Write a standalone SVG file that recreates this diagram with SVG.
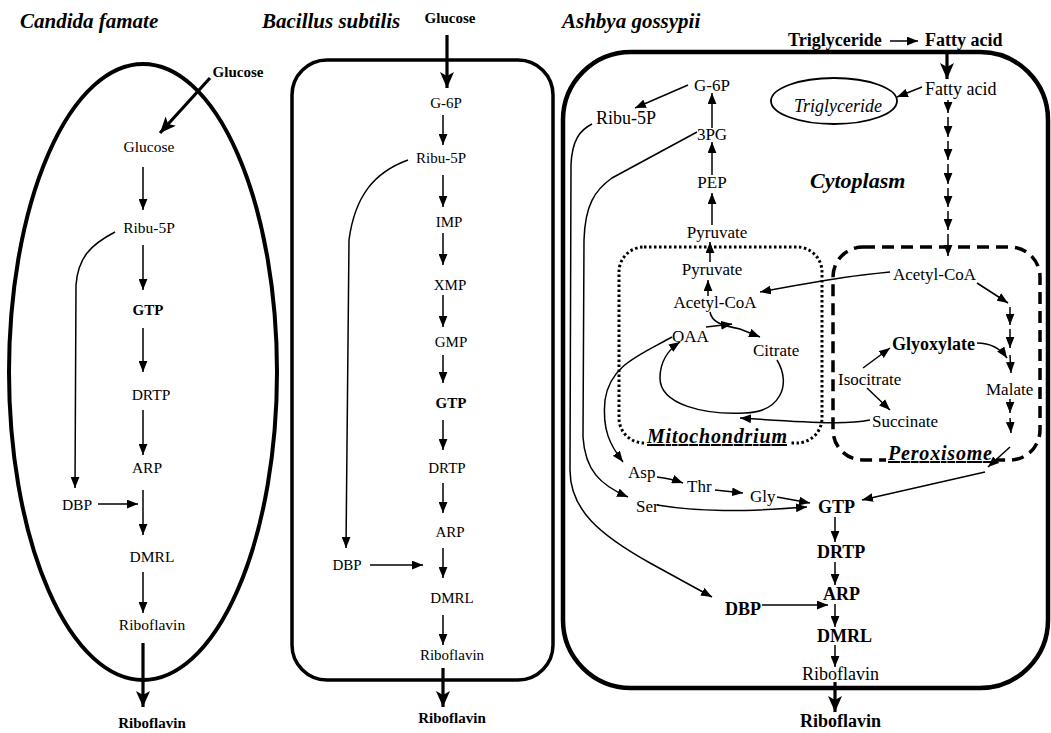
<svg xmlns="http://www.w3.org/2000/svg" width="1051" height="733" viewBox="0 0 1051 733">
<defs>
<style>
text{font-family:"Liberation Serif","Times New Roman",serif;fill:#000}
.t{font-size:21px;font-weight:bold;font-style:italic}
.c{font-size:15.5px;text-anchor:middle}
.cb{font-size:15px;font-weight:bold;text-anchor:middle}
.b{font-size:15px;text-anchor:middle}
.a{font-size:17px}
.a18{font-size:18px}
.ab{font-size:18px;font-weight:bold}
.org{font-size:20px;font-weight:bold;font-style:italic;text-decoration:underline}
.ln{fill:none;stroke:#000;stroke-width:1.5;marker-end:url(#ah)}
.thk{fill:none;stroke:#000;stroke-width:3.2;marker-end:url(#ahb)}
.box{fill:none;stroke:#000}
</style>
<marker id="ah" viewBox="0 0 10 8" refX="10" refY="4" markerWidth="11" markerHeight="9" orient="auto" markerUnits="userSpaceOnUse"><path d="M0,0 L10,4 L0,8 Z"/></marker>
<marker id="ahb" viewBox="0 0 16 14" refX="16" refY="7" markerWidth="16" markerHeight="14" orient="auto" markerUnits="userSpaceOnUse"><path d="M0,0 L16,7 L0,14 L4,7 Z"/></marker>
</defs>
<rect width="1051" height="733" fill="#fff"/>

<!-- titles -->
<g id="titles">
<text class="t" x="20" y="28">Candida famate</text>
<text class="t" x="262" y="28">Bacillus subtilis</text>
<text class="t" x="562" y="28">Ashbya gossypii</text>
</g>

<!-- compartments -->
<g id="candida-cell"><ellipse class="box" cx="143" cy="372" rx="134" ry="308" stroke-width="4"/></g>
<g id="bacillus-cell"><rect class="box" x="292" y="60" width="261" height="620" rx="35" stroke-width="3.5"/></g>
<g id="ashbya-cell"><rect class="box" x="563" y="52" width="485" height="636" rx="68" stroke-width="4.5"/></g>
<g id="mitochondrion">
<rect class="box" x="619" y="247" width="203" height="196" rx="25" stroke-width="3" stroke-dasharray="2.5 2.5"/>
<rect x="645" y="428" width="146" height="20" fill="#fff"/>
<text class="org" x="647" y="443" textLength="140" lengthAdjust="spacing">Mitochondrium</text>
</g>
<g id="peroxisome">
<rect class="box" x="833" y="247" width="207" height="213" rx="30" stroke-width="3.5" stroke-dasharray="12 7"/>
<rect x="886" y="445" width="110" height="20" fill="#fff"/>
<text class="org" x="888" y="460" textLength="104" lengthAdjust="spacing">Peroxisome</text>
</g>
<g id="triglyceride-droplet">
<ellipse class="box" cx="834" cy="101" rx="63" ry="23" stroke-width="1.8"/>
<text class="a18" x="838" y="112" text-anchor="middle" font-style="italic">Triglyceride</text>
</g>
<g id="cytoplasm-label"><text x="810" y="188" font-size="22" font-weight="bold" font-style="italic">Cytoplasm</text></g>

<!-- connectors -->
<g id="connectors">
<!-- Candida -->
<line class="thk" x1="210" y1="78" x2="160" y2="133"/>
<line class="ln" x1="143" y1="167" x2="143" y2="210"/>
<line class="ln" x1="143" y1="245" x2="143" y2="290"/>
<line class="ln" x1="143" y1="328" x2="143" y2="372"/>
<line class="ln" x1="143" y1="410" x2="143" y2="455"/>
<line class="ln" x1="143" y1="490" x2="143" y2="535"/>
<line class="ln" x1="143" y1="572" x2="143" y2="613"/>
<line class="thk" x1="143" y1="643" x2="143" y2="707"/>
<line class="ln" x1="98" y1="504" x2="138" y2="504"/>
<path class="ln" d="M115,232 C90,245 78,258 76,285 L75,488"/>
<!-- Bacillus -->
<line class="thk" x1="447" y1="35" x2="447" y2="88"/>
<line class="ln" x1="443" y1="115" x2="443" y2="145"/>
<line class="ln" x1="443" y1="175" x2="443" y2="207"/>
<line class="ln" x1="443" y1="233" x2="443" y2="265"/>
<line class="ln" x1="443" y1="295" x2="443" y2="327"/>
<line class="ln" x1="443" y1="355" x2="443" y2="383"/>
<line class="ln" x1="443" y1="420" x2="443" y2="450"/>
<line class="ln" x1="443" y1="483" x2="443" y2="513"/>
<line class="ln" x1="443" y1="548" x2="443" y2="578"/>
<line class="ln" x1="443" y1="615" x2="443" y2="645"/>
<line class="thk" x1="443" y1="668" x2="443" y2="707"/>
<line class="ln" x1="370" y1="565" x2="423" y2="565"/>
<path class="ln" d="M408,160 C375,172 355,195 349,240 L346,548"/>
<!-- Ashbya -->
<line class="ln" x1="890" y1="41" x2="918" y2="41"/>
<line class="thk" x1="947" y1="50" x2="947" y2="79"/>
<line class="ln" x1="922" y1="87" x2="897" y2="97"/>
<line class="ln" x1="948" y1="100" x2="948" y2="113"/>
<line class="ln" x1="948" y1="117" x2="948" y2="137"/>
<line class="ln" x1="948" y1="141" x2="948" y2="160"/>
<line class="ln" x1="948" y1="164" x2="948" y2="184"/>
<line class="ln" x1="948" y1="188" x2="948" y2="207"/>
<line class="ln" x1="948" y1="211" x2="948" y2="230"/>
<line class="ln" x1="948" y1="234" x2="948" y2="256"/>
<line class="ln" x1="688" y1="85" x2="635" y2="108"/>
<line class="ln" x1="712" y1="128" x2="712" y2="93"/>
<line class="ln" x1="712" y1="175" x2="712" y2="142"/>
<line class="ln" x1="712" y1="225" x2="712" y2="193"/>
<line class="ln" x1="710" y1="262" x2="710" y2="242"/>
<line class="ln" x1="708" y1="296" x2="708" y2="280"/>
<path class="ln" d="M710,312 C712,322 720,325 740,329 L760,337"/>
<line class="ln" x1="706" y1="327" x2="732" y2="324"/>
<path class="ln" d="M777,360 C792,385 780,412 745,413 C705,415 660,405 660,378 C660,362 668,350 680,342"/>
<path class="ln" d="M870,420 C850,424 830,424 740,418"/>
<path class="ln" d="M890,272 C860,275 840,277 760,292"/>
<line class="ln" x1="977" y1="283" x2="1008" y2="303"/>
<line class="ln" x1="1010" y1="307" x2="1010" y2="325"/>
<line class="ln" x1="1010" y1="329" x2="1010" y2="348"/>
<path class="ln" d="M977,343 C990,343 1000,348 1007,358"/>
<line class="ln" x1="1010" y1="355" x2="1011" y2="373"/>
<line class="ln" x1="1010" y1="399" x2="1010" y2="413"/>
<line class="ln" x1="1010" y1="418" x2="1011" y2="433"/>
<line class="ln" x1="1010" y1="447" x2="988" y2="467"/>
<line class="ln" x1="985" y1="472" x2="862" y2="500"/>
<line class="ln" x1="863" y1="368" x2="890" y2="348"/>
<line class="ln" x1="867" y1="388" x2="890" y2="410"/>
<line class="ln" x1="777" y1="497" x2="810" y2="503"/>
<path class="ln" d="M657,505 C700,512 740,512 807,507"/>
<path class="ln" d="M657,477 C667,478 675,480 683,483"/>
<line class="ln" x1="715" y1="490" x2="743" y2="493"/>
<path class="ln" d="M672,337 C640,355 610,365 605,400 C602,430 610,445 623,462"/>
<path class="ln" d="M592,124 C580,130 572,140 571,165 L570,470 C570,510 600,535 650,563 L712,597"/>
<path class="ln" d="M697,132 L612,178 C595,190 585,205 584,240 L583,437 C585,470 600,485 628,497"/>
<line class="ln" x1="835" y1="517" x2="835" y2="542"/>
<line class="ln" x1="835" y1="562" x2="835" y2="585"/>
<line class="ln" x1="835" y1="604" x2="835" y2="627"/>
<line class="ln" x1="835" y1="645" x2="835" y2="667"/>
<line class="thk" x1="835" y1="682" x2="835" y2="712"/>
<line class="ln" x1="762" y1="605" x2="828" y2="605"/>
</g>

<!-- Candida nodes -->
<g id="c-glucose-ext"><text class="cb" x="238" y="77">Glucose</text></g>
<g id="c-glucose"><text class="c" x="149" y="152">Glucose</text></g>
<g id="c-ribu5p"><text class="c" x="149" y="233">Ribu-5P</text></g>
<g id="c-gtp"><text class="cb" x="148" y="315">GTP</text></g>
<g id="c-drtp"><text class="c" x="151" y="400">DRTP</text></g>
<g id="c-arp"><text class="c" x="147" y="473">ARP</text></g>
<g id="c-dbp"><text class="c" x="77" y="510">DBP</text></g>
<g id="c-dmrl"><text class="c" x="152" y="562">DMRL</text></g>
<g id="c-riboflavin"><text class="c" x="152" y="630">Riboflavin</text></g>
<g id="c-riboflavin-ext"><text class="cb" x="152" y="728" font-size="14">Riboflavin</text></g>

<!-- Bacillus nodes -->
<g id="b-glucose-ext"><text class="cb" x="450" y="23">Glucose</text></g>
<g id="b-g6p"><text class="b" x="446" y="108">G-6P</text></g>
<g id="b-ribu5p"><text class="b" x="441" y="163">Ribu-5P</text></g>
<g id="b-imp"><text class="b" x="449" y="227">IMP</text></g>
<g id="b-xmp"><text class="b" x="450" y="290">XMP</text></g>
<g id="b-gmp"><text class="b" x="451" y="347">GMP</text></g>
<g id="b-gtp"><text class="cb" x="451" y="408">GTP</text></g>
<g id="b-drtp"><text class="b" x="447" y="473">DRTP</text></g>
<g id="b-arp"><text class="b" x="450" y="537">ARP</text></g>
<g id="b-dbp"><text class="b" x="347" y="570">DBP</text></g>
<g id="b-dmrl"><text class="b" x="452" y="603">DMRL</text></g>
<g id="b-riboflavin"><text class="b" x="452" y="660">Riboflavin</text></g>
<g id="b-riboflavin-ext"><text class="cb" x="452" y="723">Riboflavin</text></g>

<!-- Ashbya nodes -->
<g id="a-triglyceride-ext"><text class="ab" x="788" y="46">Triglyceride</text></g>
<g id="a-fattyacid-ext"><text class="ab" x="925" y="46">Fatty acid</text></g>
<g id="a-fattyacid"><text class="a18" x="925" y="95">Fatty acid</text></g>
<g id="a-g6p"><text class="a" x="712" y="91" text-anchor="middle">G-6P</text></g>
<g id="a-ribu5p"><text class="a18" x="596" y="124">Ribu-5P</text></g>
<g id="a-3pg"><text class="a" x="712" y="140" text-anchor="middle">3PG</text></g>
<g id="a-pep"><text class="a" x="712" y="188" text-anchor="middle">PEP</text></g>
<g id="a-pyruvate-cyt"><text class="a" x="717" y="238" text-anchor="middle">Pyruvate</text></g>
<g id="a-pyruvate-mit"><text class="a" x="712" y="275" text-anchor="middle">Pyruvate</text></g>
<g id="a-acetylcoa-mit"><text class="a" x="715" y="308" text-anchor="middle">Acetyl-CoA</text></g>
<g id="a-oaa"><text class="a" x="672" y="342">OAA</text></g>
<g id="a-citrate"><text class="a" x="753" y="356">Citrate</text></g>
<g id="a-acetylcoa-per"><text class="a" x="893" y="280">Acetyl-CoA</text></g>
<g id="a-glyoxylate"><text class="ab" x="892" y="350">Glyoxylate</text></g>
<g id="a-isocitrate"><text class="a" x="838" y="385">Isocitrate</text></g>
<g id="a-malate"><text class="a" x="986" y="395">Malate</text></g>
<g id="a-succinate"><text class="a" x="872" y="427">Succinate</text></g>
<g id="a-asp"><text class="a" x="628" y="478" font-size="16">Asp</text></g>
<g id="a-thr"><text class="a" x="687" y="492" font-size="16">Thr</text></g>
<g id="a-gly"><text class="a" x="750" y="502">Gly</text></g>
<g id="a-ser"><text class="a" x="636" y="512" font-size="16">Ser</text></g>
<g id="a-gtp"><text class="ab" x="818" y="513">GTP</text></g>
<g id="a-drtp"><text class="ab" x="817" y="558">DRTP</text></g>
<g id="a-arp"><text class="ab" x="823" y="600">ARP</text></g>
<g id="a-dbp"><text class="ab" x="725" y="615">DBP</text></g>
<g id="a-dmrl"><text class="ab" x="817" y="642">DMRL</text></g>
<g id="a-riboflavin"><text class="a18" x="802" y="680">Riboflavin</text></g>
<g id="a-riboflavin-ext"><text class="ab" x="800" y="727" font-size="16">Riboflavin</text></g>
</svg>
